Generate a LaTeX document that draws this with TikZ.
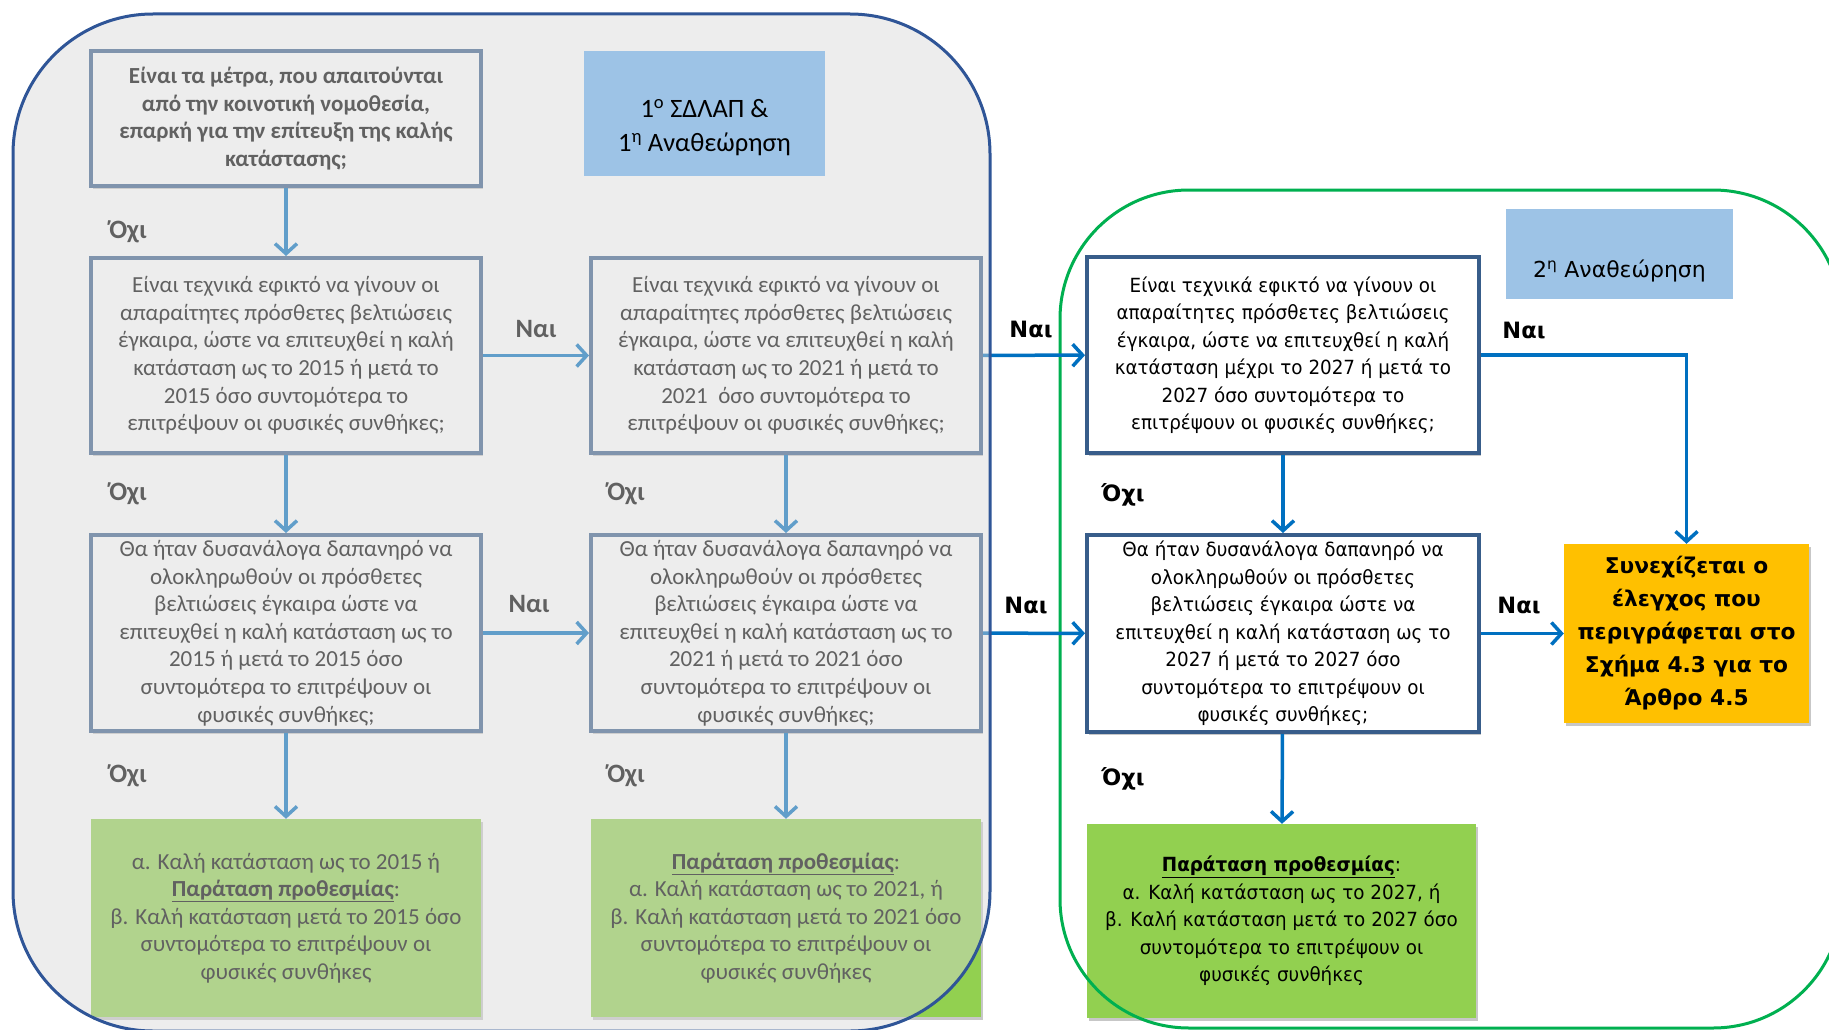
\documentclass[tikz,border=0pt]{standalone}
\usepackage{fontspec}
\setmainfont{Carlito}
\newfontfamily\calf{Carlito}
\newfontfamily\tahf[FakeStretch=0.94]{DejaVu Sans}
\newfontfamily\tahl{DejaVu Sans}
\usetikzlibrary{arrows.meta,shadows}
\definecolor{boxblue}{HTML}{385D8A}
\definecolor{arrowblue}{HTML}{0070C0}
\definecolor{okgreen}{HTML}{92D050}
\definecolor{orangebox}{HTML}{FFC000}
\definecolor{titleblue}{HTML}{9DC3E6}
\definecolor{leftframe}{HTML}{2F5597}
\definecolor{rightframe}{HTML}{00B050}
\definecolor{veil}{RGB}{216,216,216}
\tikzset{
  shade box/.style={drop shadow={shadow xshift=2pt,shadow yshift=-3pt,opacity=0.22,fill=black}},
  qbox/.style={draw=boxblue, line width=4pt, fill=white, minimum width=390pt, inner sep=0pt,
     align=center, text=black, shade box},
  lefttext/.style={font=\calf\fontsize{23}{27.6}\selectfont},
  righttext/.style={font=\tahf\fontsize{19.5}{27.5}\selectfont},
  gbox/.style={fill=okgreen, minimum width=390pt, inner sep=0pt, align=center, text=black, shade box},
  arr/.style={draw=arrowblue, line width=3.5pt, -{Straight Barb[length=10pt,width=22pt]}},
  lblL/.style={font=\calf\bfseries\fontsize{26.5}{28}\selectfont, text=black, inner sep=0pt},
  lblR/.style={font=\tahl\bfseries\fontsize{22.5}{24}\selectfont, text=black, inner sep=0pt},
  titlebox/.style={fill=titleblue, inner sep=0pt},
}
\begin{document}
\begin{tikzpicture}[x=1pt,y=-1pt]
\useasboundingbox (0,0) rectangle (1829,1030);
\clip (0,0) rectangle (1829,1030);
\fill[white] (0,0) rectangle (1829,1030);

% column 1
\node[qbox, lefttext, minimum height=135pt, font=\calf\bfseries\fontsize{23}{27.6}\selectfont] (A) at (286,118.5)
  {Είναι τα μέτρα, που απαιτούνται\\από την κοινοτική νομοθεσία,\\επαρκή για την επίτευξη της καλής\\κατάστασης;};
\node[qbox, lefttext, minimum height=195pt] (B) at (286,355.5)
  {Είναι τεχνικά εφικτό να γίνουν οι\\απαραίτητες πρόσθετες βελτιώσεις\\έγκαιρα, ώστε να επιτευχθεί η καλή\\κατάσταση ως το 2015 ή μετά το\\2015 όσο συντομότερα το\\επιτρέψουν οι φυσικές συνθήκες;};
\node[qbox, lefttext, minimum height=196pt] (C) at (286,633)
  {Θα ήταν δυσανάλογα δαπανηρό να\\ολοκληρωθούν οι πρόσθετες\\βελτιώσεις έγκαιρα ώστε να\\επιτευχθεί η καλή κατάσταση ως το\\2015 ή μετά το 2015 όσο\\συντομότερα το επιτρέψουν οι\\φυσικές συνθήκες;};
\node[gbox, lefttext, minimum height=198pt] (D) at (286,918)
  {α. Καλή κατάσταση ως το 2015 ή\\\underline{\textbf{Παράταση προθεσμίας}}:\\β. Καλή κατάσταση μετά το 2015 όσο\\συντομότερα το επιτρέψουν οι\\φυσικές συνθήκες};

% column 2
\node[qbox, lefttext, minimum height=195pt] (B2) at (786,355.5)
  {Είναι τεχνικά εφικτό να γίνουν οι\\απαραίτητες πρόσθετες βελτιώσεις\\έγκαιρα, ώστε να επιτευχθεί η καλή\\κατάσταση ως το 2021 ή μετά το\\2021~ όσο συντομότερα το\\επιτρέψουν οι φυσικές συνθήκες;};
\node[qbox, lefttext, minimum height=196pt] (C2) at (786,633)
  {Θα ήταν δυσανάλογα δαπανηρό να\\ολοκληρωθούν οι πρόσθετες\\βελτιώσεις έγκαιρα ώστε να\\επιτευχθεί η καλή κατάσταση ως το\\2021 ή μετά το 2021 όσο\\συντομότερα το επιτρέψουν οι\\φυσικές συνθήκες;};
\node[gbox, lefttext, minimum height=198pt] (D2) at (786,918)
  {\underline{\textbf{Παράταση προθεσμίας}}:\\α. Καλή κατάσταση ως το 2021, ή\\β. Καλή κατάσταση μετά το 2021 όσο\\συντομότερα το επιτρέψουν οι\\φυσικές συνθήκες};

% column 3
\node[qbox, righttext, minimum height=196pt, minimum width=392pt] (B3) at (1283,355)
  {Είναι τεχνικά εφικτό να γίνουν οι\\απαραίτητες πρόσθετες βελτιώσεις\\έγκαιρα, ώστε να επιτευχθεί η καλή\\κατάσταση μέχρι το 2027 ή μετά το\\2027 όσο συντομότερα το\\επιτρέψουν οι φυσικές συνθήκες;};
\node[qbox, righttext, minimum height=197pt, minimum width=392pt] (C3) at (1283,633.5)
  {Θα ήταν δυσανάλογα δαπανηρό να\\ολοκληρωθούν οι πρόσθετες\\βελτιώσεις έγκαιρα ώστε να\\επιτευχθεί η καλή κατάσταση ως το\\2027 ή μετά το 2027 όσο\\συντομότερα το επιτρέψουν οι\\φυσικές συνθήκες;};
\node[gbox, righttext, minimum height=194pt, minimum width=389pt] (D3) at (1281.5,921)
  {\underline{\textbf{Παράταση προθεσμίας}}:\\α. Καλή κατάσταση ως το 2027, ή\\β. Καλή κατάσταση μετά το 2027 όσο\\συντομότερα το επιτρέψουν οι\\φυσικές συνθήκες};
\node[fill=orangebox, minimum width=245pt, minimum height=179pt, inner sep=0pt, align=center, shade box,
      font=\tahl\bfseries\fontsize{21.7}{33}\selectfont] (O) at (1686.5,633.5)
  {Συνεχίζεται ο\\έλεγχος που\\περιγράφεται στο\\Σχήμα 4.3 για το\\Άρθρο 4.5};

% right frame
\draw[rightframe, line width=3pt, rounded corners=129pt] (1060,190) rectangle (1842,1028);

% title 2
\node[titlebox, minimum width=227pt, minimum height=90pt] (T2) at (1619.5,254) {};
\node[font=\tahl\fontsize{22}{24}\selectfont, inner sep=0pt] (T2t) at (1619.5,271) {2\textsuperscript{η} Αναθεώρηση};

% connectors
\draw[arr] (A) -- (B);
\draw[arr] (B) -- (C);
\draw[arr] (C) -- (D);
\draw[arr] (B2) -- (C2);
\draw[arr] (C2) -- (D2);
\draw[arr] (B) -- (B2);
\draw[arr] (C) -- (C2);
\draw[arr] (B2) -- (B3);
\draw[arr] (C2) -- (C3);
\draw[arr] (B3) -- (C3);
\draw[arr] (C3) -- (D3);
\draw[arr] (C3) -- (O);
\draw[arr] (B3.east) -| (O.north);

% labels
\node[lblL] (l1) at (128,232) {Όχι};
\node[lblL] (l2) at (128,494) {Όχι};
\node[lblL] (l3) at (128,776) {Όχι};
\node[lblL] (l4) at (626,494) {Όχι};
\node[lblL] (l5) at (626,776) {Όχι};
\node[lblL] (l6) at (536,329) {Ναι};
\node[lblL] (l7) at (529,604) {Ναι};
\node[lblR] (r1) at (1031,330) {Ναι};
\node[lblR] (r2) at (1026,606) {Ναι};
\node[lblR] (r3) at (1524,331) {Ναι};
\node[lblR] (r4) at (1519,606) {Ναι};
\node[lblR] (r5) at (1123,495) {Όχι};
\node[lblR] (r6) at (1123,779) {Όχι};

% left frame veil
\fill[veil, opacity=0.45, rounded corners=140pt] (13,14) rectangle (990,1031);
\draw[leftframe, line width=3pt, rounded corners=140pt] (13,14) rectangle (990,1031);

% title 1
\node[titlebox, minimum width=241pt, minimum height=125pt] (T1) at (704.5,113.5) {};
\node[font=\calf\fontsize{26.5}{34}\selectfont, align=center, inner sep=0pt] (T1t) at (704.5,128)
  {1\textsuperscript{ο} ΣΔΛΑΠ \&\\1\textsuperscript{η} Αναθεώρηση};
\end{tikzpicture}
\end{document}
